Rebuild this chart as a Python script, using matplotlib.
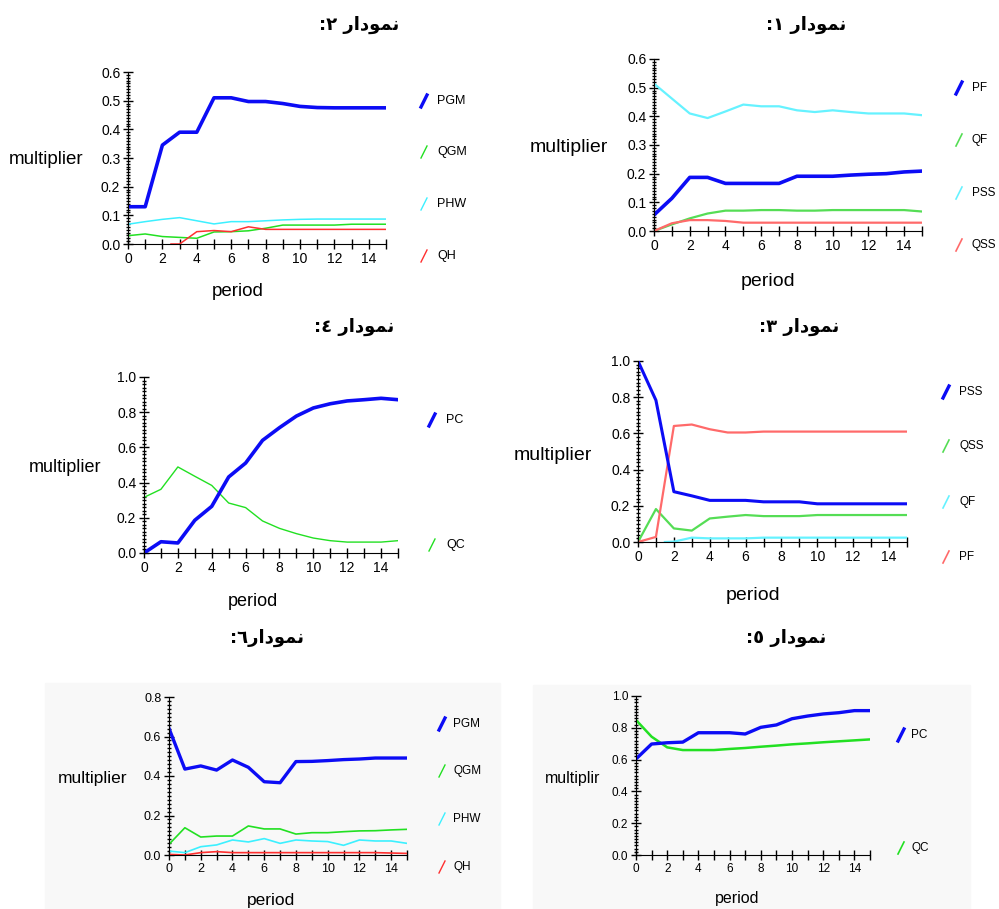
import matplotlib.pyplot as plt
from matplotlib.lines import Line2D
from matplotlib.patches import Rectangle
from matplotlib.ticker import MultipleLocator, FormatStrFormatter

W, H = 999, 909
plt.rcParams['font.family'] = ['Liberation Sans', 'DejaVu Sans']

period = list(range(16))

# chart 1
c1_pf = [0.056, 0.114, 0.187, 0.187, 0.166, 0.166, 0.166, 0.166, 0.191, 0.191, 0.191, 0.195, 0.198, 0.200, 0.206, 0.209]
c1_qf = [0.0, 0.023, 0.044, 0.061, 0.071, 0.071, 0.073, 0.073, 0.071, 0.071, 0.073, 0.073, 0.073, 0.073, 0.073, 0.068]
c1_pss = [0.514, 0.462, 0.410, 0.394, 0.417, 0.441, 0.435, 0.435, 0.421, 0.415, 0.421, 0.415, 0.410, 0.410, 0.410, 0.404]
c1_qss = [0.0, 0.027, 0.038, 0.038, 0.035, 0.029, 0.029, 0.029, 0.029, 0.029, 0.029, 0.029, 0.029, 0.029, 0.029, 0.029]

# chart 2
c2_pgm = [0.130, 0.130, 0.345, 0.390, 0.390, 0.510, 0.510, 0.497, 0.497, 0.490, 0.480, 0.476, 0.475, 0.475, 0.475, 0.475]
c2_qgm = [0.029, 0.035, 0.026, 0.023, 0.020, 0.042, 0.043, 0.046, 0.055, 0.066, 0.066, 0.066, 0.066, 0.069, 0.069, 0.069]
c2_phw = [0.069, 0.078, 0.086, 0.092, 0.081, 0.070, 0.078, 0.078, 0.081, 0.084, 0.086, 0.087, 0.087, 0.087, 0.087, 0.087]
c2_qh_period = [2.5, 3, 4, 5, 6, 7, 8, 9, 10, 11, 12, 13, 14, 15]
c2_qh = [0.0, 0.0, 0.043, 0.047, 0.043, 0.060, 0.051, 0.051, 0.051, 0.051, 0.051, 0.051, 0.051, 0.051]

# chart 3
c3_pss = [1.0, 0.783, 0.278, 0.255, 0.230, 0.230, 0.230, 0.222, 0.222, 0.222, 0.211, 0.211, 0.211, 0.211, 0.211, 0.211]
c3_qss = [0.0, 0.182, 0.075, 0.063, 0.130, 0.140, 0.149, 0.143, 0.143, 0.143, 0.149, 0.149, 0.149, 0.149, 0.149, 0.149]
c3_qf_period = [1.5, 2, 3, 4, 5, 6, 7, 8, 9, 10, 11, 12, 13, 14, 15]
c3_qf = [0.0, 0.002, 0.024, 0.020, 0.020, 0.020, 0.024, 0.024, 0.024, 0.024, 0.024, 0.024, 0.024, 0.024, 0.024]
c3_pf = [0.0, 0.028, 0.641, 0.649, 0.623, 0.605, 0.605, 0.610, 0.610, 0.610, 0.610, 0.610, 0.610, 0.610, 0.610, 0.610]

# chart 4
c4_pc = [0.0, 0.064, 0.057, 0.186, 0.265, 0.432, 0.511, 0.640, 0.712, 0.778, 0.824, 0.848, 0.864, 0.871, 0.879, 0.871]
c4_qc = [0.316, 0.362, 0.489, 0.436, 0.384, 0.284, 0.258, 0.182, 0.140, 0.110, 0.085, 0.070, 0.062, 0.062, 0.062, 0.070]

# chart 5
c5_pc = [0.604, 0.698, 0.706, 0.710, 0.769, 0.769, 0.769, 0.761, 0.803, 0.818, 0.857, 0.874, 0.887, 0.895, 0.908, 0.908]
c5_qc = [0.849, 0.744, 0.677, 0.660, 0.660, 0.660, 0.667, 0.673, 0.681, 0.688, 0.696, 0.702, 0.709, 0.715, 0.721, 0.727]

# chart 6
c6_pgm = [0.641, 0.435, 0.451, 0.430, 0.481, 0.444, 0.371, 0.366, 0.473, 0.474, 0.478, 0.483, 0.486, 0.491, 0.491, 0.491]
c6_qgm = [0.054, 0.138, 0.091, 0.096, 0.096, 0.147, 0.132, 0.132, 0.106, 0.113, 0.113, 0.118, 0.122, 0.123, 0.127, 0.130]
c6_phw = [0.020, 0.012, 0.042, 0.051, 0.076, 0.066, 0.083, 0.059, 0.076, 0.071, 0.068, 0.049, 0.076, 0.071, 0.071, 0.059]
c6_qh = [0.003, 0.0, 0.012, 0.017, 0.012, 0.012, 0.012, 0.012, 0.012, 0.012, 0.012, 0.012, 0.012, 0.012, 0.010, 0.008]

BLUE = '#0c0cf5'
GREEN = '#22e022'
CYAN = '#3cf0ff'
RED = '#ff3030'
LGREEN = '#55dd55'
LCYAN = '#66f2ff'
LRED = '#ff6a6a'

# Persian title "نمودار" in visual (left-to-right) order with shaped letters
WORD = '\uFEAD\uFE8D\uFEA9\uFEEE\uFEE4\uFEE7'

fig = plt.figure(figsize=(9.99, 9.09), dpi=100)

# light background boxes behind the two bottom charts
fig.add_artist(Rectangle((45 / W, 0), 455 / W, 1 - 683 / H, transform=fig.transFigure,
                         color='#f8f8f8', zorder=0))
fig.add_artist(Rectangle((533 / W, 0), 437 / W, 1 - 685 / H, transform=fig.transFigure,
                         color='#f8f8f8', zorder=0))


def make_ax(left, right, bottom, top, ymax, major, minor, tick_size):
    ax = fig.add_axes([left / W, 1 - bottom / H, (right - left) / W, (bottom - top) / H])
    ax.patch.set_alpha(0)
    ax.set_xlim(0, 15)
    ax.set_ylim(0, ymax)
    for s in ['top', 'right']:
        ax.spines[s].set_visible(False)
    ax.set_xticks(period)
    ax.set_xticklabels([str(p) if p % 2 == 0 else '' for p in period])
    ax.yaxis.set_major_locator(MultipleLocator(major))
    ax.yaxis.set_minor_locator(MultipleLocator(minor))
    ax.yaxis.set_major_formatter(FormatStrFormatter('%.1f'))
    ax.tick_params(axis='both', which='major', direction='inout', length=7, width=1,
                   labelsize=tick_size, colors='black', pad=2)
    ax.tick_params(axis='y', which='minor', direction='inout', length=3, width=1)
    return ax


def labels(mx, my, px, py, size, ytext='multiplier'):
    fig.text(mx / W, 1 - my / H, ytext, ha='center', va='center', fontsize=size)
    fig.text(px / W, 1 - py / H, 'period', ha='center', va='center', fontsize=size)


def title(x, y, digit, space=' '):
    fig.text(x / W, 1 - y / H, ':' + digit + space + WORD, ha='center', va='center',
             fontsize=13, fontweight='bold', family=['DejaVu Sans'])


def legend(entries, mx, lx, size=9):
    for name, color, lw, py in entries:
        fig.add_artist(Line2D([(mx - 3) / W, (mx + 3) / W], [1 - (py + 6) / H, 1 - (py - 6) / H],
                              transform=fig.transFigure, color=color, lw=lw))
        fig.text(lx / W, 1 - py / H, name, ha='left', va='center', fontsize=size)


# chart 2 (top left)
ax = make_ax(128, 386, 244, 72, 0.6, 0.1, 0.01, 10)
ax.plot(period, c2_phw, color=CYAN, lw=1.1)
ax.plot(period, c2_qgm, color=GREEN, lw=1.1)
ax.plot(c2_qh_period, c2_qh, color=RED, lw=1.1)
ax.plot(period, c2_pgm, color=BLUE, lw=2.6)
title(359, 25, '\u06F2')
labels(46, 160, 238, 292, 13.5)
legend([('PGM', BLUE, 2.4, 101), ('QGM', GREEN, 1, 152), ('PHW', CYAN, 1, 204), ('QH', RED, 1, 256)],
       424, 437)

# chart 1 (top right)
ax = make_ax(654, 922, 231, 59, 0.6, 0.1, 0.01, 10)
ax.plot(period, c1_pss, color=LCYAN, lw=1.6)
ax.plot(period, c1_qf, color=LGREEN, lw=1.6)
ax.plot(period, c1_qss, color=LRED, lw=1.6)
ax.plot(period, c1_pf, color=BLUE, lw=2.6)
title(806, 25, '\u06F1')
labels(569, 148, 768, 282, 14)
legend([('PF', BLUE, 2.4, 88), ('QF', LGREEN, 1.2, 140), ('PSS', LCYAN, 1.2, 193), ('QSS', LRED, 1.2, 245)],
       959, 972, 8.5)

# chart 4 (middle left)
ax = make_ax(144, 398, 553, 377, 1.0, 0.2, 0.02, 10)
ax.plot(period, c4_qc, color=GREEN, lw=1.0)
ax.plot(period, c4_pc, color=BLUE, lw=2.6)
title(354, 327, '\u0664')
labels(65, 468, 253, 602, 13)
legend([('PC', BLUE, 2.4, 420), ('QC', GREEN, 1, 545)], 432, 446)

# chart 3 (middle right)
ax = make_ax(638, 907, 542, 361, 1.0, 0.2, 0.02, 10)
ax.plot(c3_qf_period, c3_qf, color=LCYAN, lw=1.6)
ax.plot(period, c3_qss, color=LGREEN, lw=1.6)
ax.plot(period, c3_pf, color=LRED, lw=1.6)
ax.plot(period, c3_pss, color=BLUE, lw=2.2)
title(799, 327, '\u06F3')
labels(553, 455, 753, 595, 14)
legend([('PSS', BLUE, 2.4, 392), ('QSS', LGREEN, 1.2, 446), ('QF', LCYAN, 1.2, 502), ('PF', LRED, 1.2, 557)],
       946, 959, 8.5)

# chart 6 (bottom left)
ax = make_ax(169, 407, 855, 697, 0.8, 0.2, 0.02, 9)
ax.plot(period, c6_phw, color=CYAN, lw=1.2)
ax.plot(period, c6_qgm, color=GREEN, lw=1.2)
ax.plot(period, c6_qh, color=RED, lw=1.2)
ax.plot(period, c6_pgm, color=BLUE, lw=2.4)
title(267, 638, '\u0666', space='')
labels(93, 779, 271, 900, 12.5)
legend([('PGM', BLUE, 2.4, 724), ('QGM', GREEN, 1, 771), ('PHW', CYAN, 1, 819), ('QH', RED, 1, 867)],
       442, 453, 8.5)

# chart 5 (bottom right)
ax = make_ax(636, 870, 855, 696, 1.0, 0.2, 0.02, 8.5)
ax.plot(period, c5_qc, color=GREEN, lw=1.8)
ax.plot(period, c5_pc, color=BLUE, lw=2.4)
title(786, 638, '\u0665')
labels(573, 778, 737, 898, 11.5, ytext='multiplir')
legend([('PC', BLUE, 2.4, 735), ('QC', GREEN, 1.2, 848)], 901, 911, 8.5)

fig.savefig('out.png', dpi=100)
